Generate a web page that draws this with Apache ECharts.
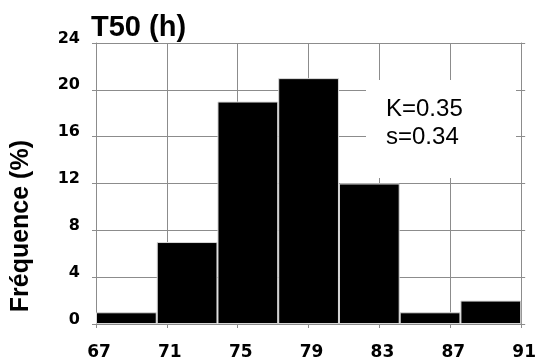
<!DOCTYPE html>
<html>
<head>
<meta charset="utf-8">
<script src="https://cdn.jsdelivr.net/npm/echarts@6/dist/echarts.min.js"></script>
<style>html,body{margin:0;padding:0;background:#fff}#c{width:539px;height:364px}</style>
</head>
<body>
<div id="c"></div>
<script>
var titleText = 'T50 (h)';
var yLabel = 'Fréquence (%)';
var statsLines = ['K=0.35', 's=0.34'];
var binLabels = ['67-70.4', '70.4-73.9', '73.9-77.3', '77.3-80.7', '80.7-84.1', '84.1-87.6', '87.6-91'];
var frequencies = [1, 7, 19, 21, 12, 1, 2];
var xTicks = { min: 67, max: 91, interval: 4 };
var yTicks = { min: 0, max: 24, interval: 4 };

var gray = '#8c8c8c';
var font = 'Liberation Sans, Arial, sans-serif';
var tickFont = 'DejaVu Sans, sans-serif';
var chart = echarts.init(document.getElementById('c'), null, { renderer: 'canvas' });
var lineSty = { color: gray, width: 1 };
chart.setOption({
  animation: false,
  backgroundColor: '#fff',
  title: {
    text: titleText, left: 86, top: 8,
    textStyle: { fontFamily: font, fontWeight: 'bold', fontSize: 29, color: '#000' }
  },
  grid: { left: 96, right: 16, top: 43, bottom: 40, containLabel: false },
  xAxis: [
    {
      type: 'value', min: xTicks.min, max: xTicks.max, interval: xTicks.interval, position: 'bottom',
      axisLine: { show: true, lineStyle: lineSty },
      axisTick: { show: true, inside: false, length: 4, lineStyle: lineSty },
      splitLine: { show: true, lineStyle: lineSty },
      axisLabel: { margin: 20, padding: [0, 0, 0, 6], fontFamily: tickFont, fontWeight: 'bold', fontSize: 17, color: '#000' }
    },
    {
      type: 'value', min: xTicks.min, max: xTicks.max, interval: xTicks.interval, position: 'top',
      axisLine: { show: true, lineStyle: lineSty },
      axisTick: { show: true, inside: false, length: 4, lineStyle: lineSty },
      splitLine: { show: false }, axisLabel: { show: false }
    },
    {
      type: 'category', data: binLabels, position: 'bottom', show: false, boundaryGap: true
    }
  ],
  yAxis: [
    {
      type: 'value', min: yTicks.min, max: yTicks.max, interval: yTicks.interval, position: 'left',
      axisLine: { show: true, lineStyle: lineSty },
      axisTick: { show: true, inside: false, length: 4, lineStyle: lineSty },
      splitLine: { show: true, lineStyle: lineSty },
      axisLabel: { margin: 16, verticalAlign: 'bottom', lineHeight: 9, fontFamily: tickFont, fontWeight: 'bold', fontSize: 16, color: '#000' }
    },
    {
      type: 'value', min: yTicks.min, max: yTicks.max, interval: yTicks.interval, position: 'right',
      axisLine: { show: true, lineStyle: lineSty },
      axisTick: { show: true, inside: false, length: 4, lineStyle: lineSty },
      splitLine: { show: false }, axisLabel: { show: false }
    }
  ],
  series: [{
    type: 'bar', xAxisIndex: 2, yAxisIndex: 0, data: frequencies,
    barWidth: '100%', barCategoryGap: '0%',
    itemStyle: { color: '#000', borderColor: '#d8d8d8', borderWidth: 1 },
    z: 5
  }],
  graphic: [
    { type: 'rect', z: 3, shape: { x: 366, y: 80, width: 150, height: 98 }, style: { fill: '#fff' } },
    { type: 'text', z: 4, left: 386, top: 95,
      style: { text: statsLines.join('\n'), font: '24px ' + font, lineHeight: 28, fill: '#000' } },
    { type: 'text', z: 4, left: 9, top: 140, rotation: Math.PI / 2,
      style: { text: yLabel, font: 'bold 25px ' + font, fill: '#000' } }
  ]
});
</script>
</body>
</html>
